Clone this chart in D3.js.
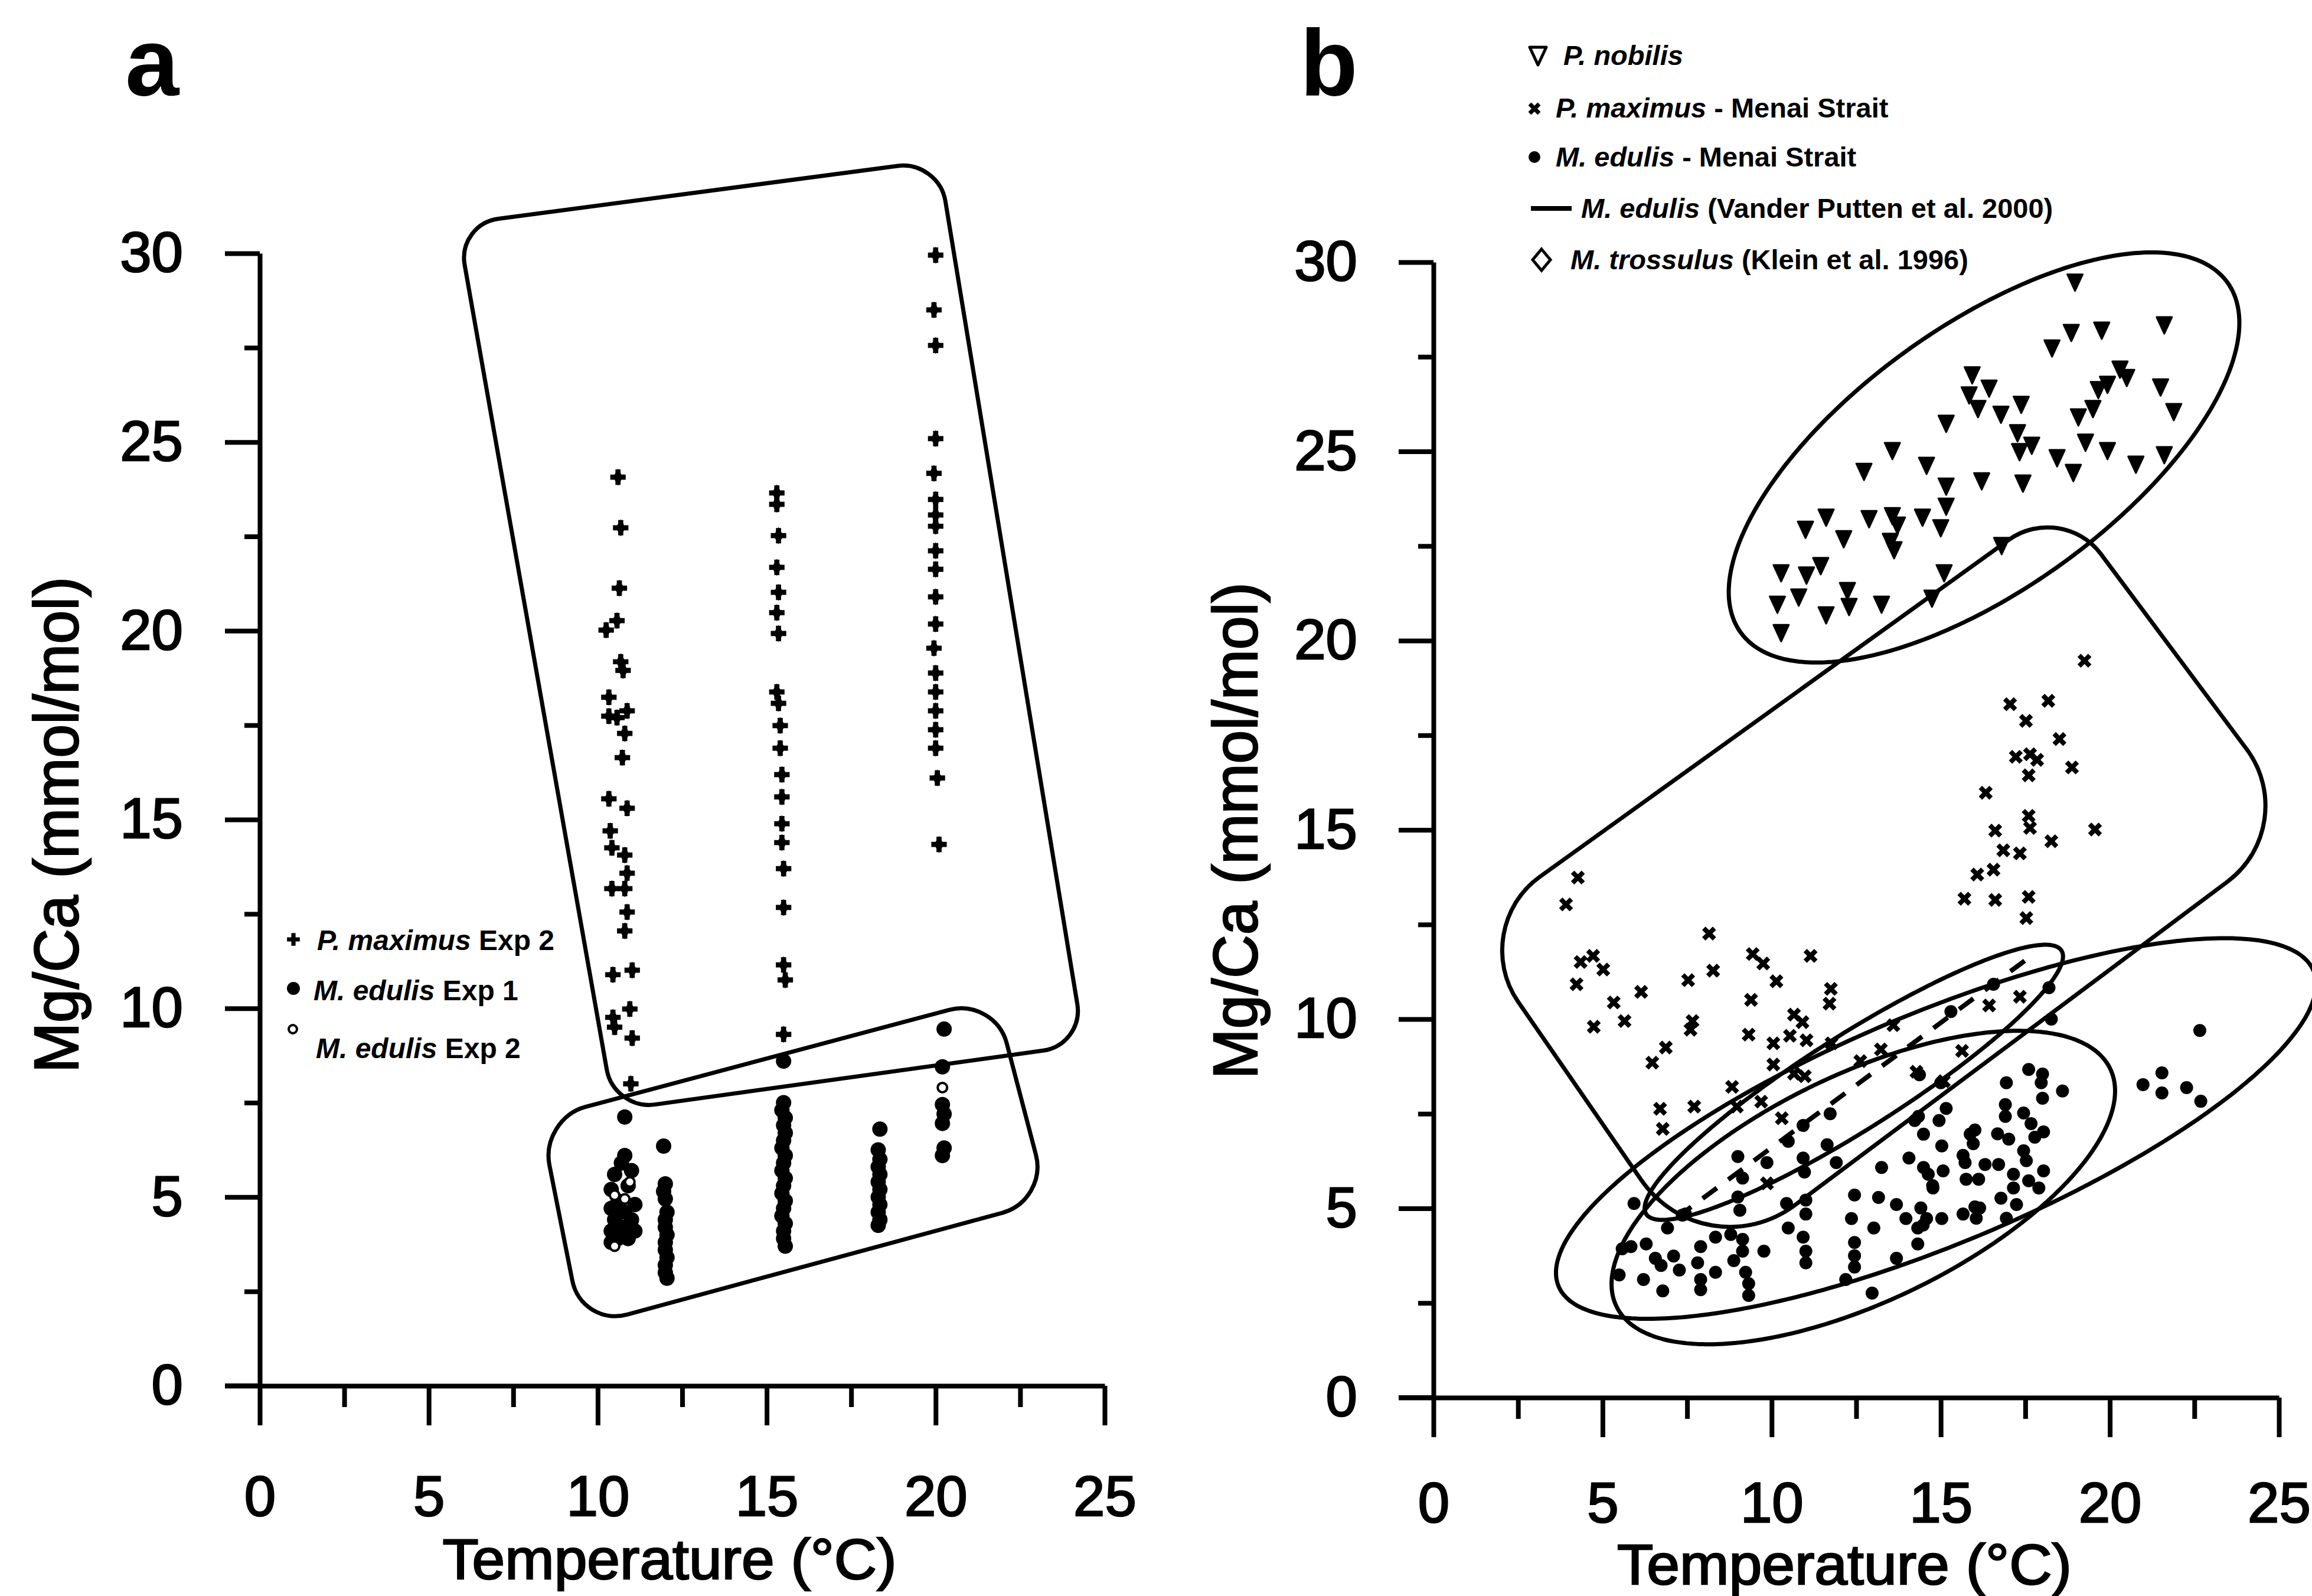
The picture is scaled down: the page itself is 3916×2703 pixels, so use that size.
<!DOCTYPE html>
<html><head><meta charset="utf-8">
<script src="https://cdn.jsdelivr.net/npm/d3@7"></script>
<style>html,body{margin:0;padding:0;background:#fff}</style>
</head><body>
<svg id="chart" width="3916" height="2703" xmlns="http://www.w3.org/2000/svg"></svg>
<script>
// ---------------- DATA ----------------
const xTicks = [0, 5, 10, 15, 20, 25];
const yTicks = [0, 5, 10, 15, 20, 25, 30];
const xMinor = [2.5, 7.5, 12.5, 17.5, 22.5];
const yMinor = [2.5, 7.5, 12.5, 17.5, 22.5, 27.5];
const xTitle = "Temperature (°C)";
const yTitle = "Mg/Ca (mmol/mol)";

// Panel a : P. maximus Exp 2 [T, Mg/Ca]
const aPmaximus = [
  [10.6,24.07],[10.68,22.73],[10.64,21.13],[10.57,20.27],[10.25,20.02],[10.68,19.18],[10.75,18.95],
  [10.33,18.24],[10.33,17.74],[10.87,17.88],[10.57,17.7],[10.8,17.28],[10.73,16.64],[10.33,15.55],
  [10.87,15.3],[10.37,14.7],[10.42,14.25],[10.8,14.06],[10.87,13.58],[10.42,13.17],[10.8,13.17],
  [10.87,12.55],[10.8,12.05],[10.45,10.89],[11.02,11.01],[10.95,9.98],[10.45,9.76],[10.5,9.5],
  [11.02,9.21],[10.98,8.0],
  [15.3,23.65],[15.3,23.35],[15.35,22.52],[15.3,21.68],[15.35,21.02],[15.3,20.48],[15.35,19.93],
  [15.3,18.38],[15.35,18.08],[15.4,17.49],[15.4,16.89],[15.45,16.19],[15.45,15.6],[15.45,14.89],
  [15.45,14.39],[15.5,13.7],[15.5,12.67],[15.5,11.15],[15.55,10.75],[15.5,9.31],
  [20.0,29.95],[19.95,28.5],[20.0,27.56],[20.0,25.09],[19.95,24.17],[20.0,23.48],[20.0,23.07],
  [20.0,22.77],[20.0,22.12],[20.0,21.63],[20.0,20.9],[20.0,20.18],[19.95,19.54],[20.0,18.88],
  [20.0,18.38],[20.0,17.88],[20.0,17.38],[20.0,16.89],[20.05,16.1],[20.1,14.34]
];
// Panel a : M. edulis Exp 1
const aEdulis1 = [
  [10.8,7.12],[10.8,6.1],[10.7,5.9],[10.5,5.6],[11.0,5.7],[10.4,5.2],[10.9,5.3],[10.6,4.9],[10.4,4.7],
  [11.1,4.8],[10.8,4.6],[10.5,4.4],[11.0,4.4],[10.7,4.2],[10.4,4.1],[11.1,4.1],[10.6,3.9],[10.9,3.9],
  [10.4,3.8],[10.8,4.0],
  [11.95,6.35],[12.0,5.35],[11.95,5.15],[12.0,4.95],[12.05,4.6],[12.0,4.4],[12.0,4.2],[12.05,4.0],
  [12.0,3.8],[12.0,3.6],[12.05,3.4],[12.0,3.2],[12.0,3.0],[12.05,2.85],
  [15.5,8.6],[15.5,7.5],[15.45,7.3],[15.55,7.1],[15.5,6.9],[15.55,6.7],[15.5,6.5],[15.45,6.3],
  [15.55,6.1],[15.5,5.9],[15.45,5.7],[15.55,5.5],[15.5,5.3],[15.45,5.1],[15.55,4.9],[15.5,4.7],
  [15.45,4.5],[15.55,4.3],[15.5,4.1],[15.5,3.9],[15.55,3.7],
  [18.35,6.8],[18.3,6.25],[18.35,6.0],[18.3,5.8],[18.35,5.6],[18.3,5.4],[18.35,5.2],[18.3,5.0],
  [18.35,4.8],[18.3,4.6],[18.35,4.4],[18.3,4.25],
  [20.25,9.45],[20.2,8.45],[20.2,7.45],[20.25,7.2],[20.2,6.95],[20.25,6.3],[20.2,6.1]
];
// Panel a : M. edulis Exp 2
const aEdulis2 = [[10.95,5.4],[10.5,5.05],[10.8,4.95],[10.5,3.7],[20.2,7.9]];

// Panel b : P. nobilis
const bNobilis = [
  [18.97,29.49],[18.86,28.16],[19.76,28.22],[21.61,28.36],[18.29,27.75],[15.93,27.04],[16.43,26.69],
  [15.84,26.51],[16.1,26.15],[20.3,27.19],[20.5,26.97],[19.93,26.79],[19.66,26.65],[21.5,26.72],
  [17.38,26.26],[16.78,26.0],[19.5,26.15],[19.07,25.93],[21.89,26.07],[15.16,25.76],[17.27,25.51],
  [17.33,25.01],[17.69,25.18],[19.28,25.26],[19.93,25.04],[21.61,24.93],[13.57,25.04],[12.73,24.49],
  [14.58,24.65],[18.44,24.85],[18.92,24.46],[20.77,24.68],[16.21,24.24],[17.43,24.18],[15.16,24.1],
  [15.16,23.57],[11.61,23.28],[12.88,23.24],[13.57,23.32],[13.72,23.07],[14.46,23.28],[11.0,22.96],
  [12.13,22.71],[13.51,22.64],[13.62,22.42],[15.0,23.0],[11.45,22.0],[10.28,21.81],[11.03,21.75],
  [15.1,21.81],[12.24,21.34],[12.29,20.92],[10.8,21.17],[10.17,20.98],[13.25,20.98],[11.61,20.7],
  [10.28,20.23],[14.74,21.14],[16.8,22.53]
];
// Panel b : P. maximus - Menai Strait
const bPmaximus = [
  [19.25,19.47],[17.05,18.32],[18.18,18.41],[17.52,17.88],[18.51,17.4],[17.22,16.93],[17.64,17.0],
  [17.85,16.85],[18.88,16.65],[17.6,16.44],[16.33,15.98],[17.6,15.37],[17.64,15.05],[16.61,14.98],
  [19.56,15.01],[18.27,14.7],[16.85,14.46],[17.34,14.38],[16.08,13.82],[16.56,13.95],[15.7,13.18],
  [16.61,13.15],[17.6,13.23],[17.53,12.67],[4.27,13.74],[3.92,13.03],[8.15,12.26],[4.35,11.51],
  [4.72,11.67],[5.02,11.31],[4.23,10.92],[9.44,11.72],[9.75,11.47],[11.15,11.67],[8.27,11.28],
  [7.53,11.03],[6.14,10.72],[10.14,11.0],[5.33,10.44],[9.39,10.51],[11.75,10.8],[11.71,10.41],
  [5.65,9.95],[4.74,9.8],[7.66,9.95],[7.6,9.72],[10.66,10.12],[10.91,9.92],[9.32,9.59],[6.87,9.25],
  [6.47,8.85],[10.54,9.56],[11.03,9.44],[11.77,9.36],[10.05,9.36],[10.05,8.8],[13.23,9.2],[13.6,9.84],
  [15.63,9.16],[16.43,10.36],[17.34,10.59],[14.28,8.61],[12.62,8.89],[10.66,8.56],[10.98,8.49],
  [8.83,8.21],[15.09,8.36],[8.97,7.69],[6.7,7.63],[7.71,7.69],[6.78,7.1],[9.69,7.82],[10.3,7.38],
  [9.86,5.66]
];
// Panel b : M. edulis - Menai Strait
const bEdulis = [
  [5.93,5.13],[9.0,6.37],[9.14,5.8],[9.0,5.3],[9.06,4.95],[11.64,6.68],[10.93,7.19],[10.49,6.77],
  [9.86,6.21],[10.93,6.33],[10.97,5.96],[11.73,7.5],[10.44,5.13],[11.01,5.22],[11.01,4.85],[10.49,4.48],
  [10.93,4.24],[11.01,3.87],[11.01,3.56],[7.45,4.85],[6.92,4.48],[8.34,4.24],[8.79,4.31],[9.14,4.18],
  [7.9,3.99],[5.84,3.99],[6.29,4.06],[7.1,3.74],[6.56,3.68],[6.73,3.49],[7.27,3.37],[7.81,3.56],
  [8.34,3.31],[8.88,3.62],[9.14,3.87],[9.23,3.31],[9.32,3.01],[9.32,2.7],[7.9,3.12],[7.9,2.85],
  [9.77,3.87],[5.49,3.24],[6.21,3.12],[6.78,2.82],[5.58,3.93],[7.36,4.82],[12.36,4.73],[12.45,4.1],
  [12.45,3.75],[12.45,3.45],[13.16,5.29],[13.02,4.48],[12.97,2.76],[12.19,3.12],[13.69,3.68],
  [11.91,6.21],[12.45,5.35],[14.23,7.32],[14.49,6.96],[14.95,7.32],[15.03,6.65],[14.06,6.33],
  [14.49,6.08],[14.76,5.6],[13.25,6.08],[13.69,5.1],[13.97,4.73],[14.32,4.48],[14.32,4.06],[14.58,4.73],
  [15.03,4.73],[15.66,6.4],[15.75,5.77],[15.66,4.85],[15.87,6.96],[16.01,5.04],
  [22.66,9.7],[20.98,8.27],[21.54,8.58],[21.54,8.05],[22.27,8.19],[22.69,7.83],[17.6,8.67],[18.01,8.55],
  [17.97,8.32],[16.94,8.32],[18.6,8.1],[18.01,7.91],[16.91,7.74],[16.91,7.43],[17.45,7.52],[17.67,7.24],
  [18.04,7.02],[17.78,6.88],[16.01,7.07],[15.96,6.71],[16.68,6.97],[17.01,6.83],[17.45,6.52],[17.53,6.26],
  [15.72,6.21],[16.31,6.16],[16.71,6.16],[18.04,5.99],[16.12,5.77],[17.15,5.9],[17.15,5.54],[17.6,5.73],
  [17.9,5.54],[16.78,5.27],[17.24,5.1],[16.15,5.01],[16.05,4.74],[16.94,4.74],[15.07,5.99],[14.63,5.9],
  [14.77,5.54],[14.41,5.01],[14.48,4.56],[14.34,7.43],[15.16,7.64],[15.0,8.32],[15.3,10.2],[16.56,10.92],
  [18.27,10.0],[18.2,10.83],[14.37,8.53]
];
// Panel b : M. edulis (Vander Putten et al. 2000) regression line
const bVanderPutten = [[7.2,4.76],[17.6,11.62]];

// Envelopes (annotation outlines) in data units
const aEnvelopes = [
  {corners: [[5.85,30.77],[20.09,32.46],[24.39,9.03],[10.48,7.3]], r: 70},
  {corners: [[8.3,7.07],[21.75,10.28],[23.32,4.91],[9.52,1.56]], r: 80}
];
const bEnvelope = {corners: [[1.01,12.39],[18.58,23.67],[25.72,15.13],[8.03,3.31]], r: [150,110,160,190]};
const bEllipses = [
  {c:[16.28,24.84], u:[7.20,4.62], v:[2.27,-2.83]},
  {c:[12.43,8.33],  u:[6.14,3.48], v:[0.75,-1.05]},
  {c:[14.86,7.11],  u:[11.16,4.17], v:[1.32,-2.81]},
  {c:[12.71,5.55],  u:[7.30,3.14], v:[1.46,-2.70]}
];

// ---------------- DRAWING ----------------
const FONT = "'Liberation Sans', Arial, Helvetica, sans-serif";
const svg = d3.select("#chart");
svg.append("rect").attr("width", 3916).attr("height", 2703).attr("fill", "#fff");

const A = {
  x: d3.scaleLinear().domain([0,25]).range([440,1871]),
  y: d3.scaleLinear().domain([0,30]).range([2347,429]),
  xPad: 85, yPad: 71
};
const B = {
  x: d3.scaleLinear().domain([0,25]).range([2428,3860]),
  y: d3.scaleLinear().domain([0,30]).range([2367,444]),
  xPad: 76, yPad: 70
};

function drawAxes(P) {
  const {x, y} = P;
  const gy = svg.append("g").attr("transform", `translate(${x(0)},0)`)
    .call(d3.axisLeft(y).tickValues(yTicks).tickSize(59).tickSizeOuter(0).tickPadding(P.yPad).tickFormat(d3.format("d")));
  const gym = svg.append("g").attr("transform", `translate(${x(0)},0)`)
    .call(d3.axisLeft(y).tickValues(yMinor).tickSize(26).tickSizeOuter(0).tickFormat(""));
  gym.select(".domain").remove();
  const gx = svg.append("g").attr("transform", `translate(0,${y(0)})`)
    .call(d3.axisBottom(x).tickValues(xTicks).tickSize(67).tickSizeOuter(0).tickPadding(P.xPad).tickFormat(d3.format("d")));
  const gxm = svg.append("g").attr("transform", `translate(0,${y(0)})`)
    .call(d3.axisBottom(x).tickValues(xMinor).tickSize(36).tickSizeOuter(0).tickFormat(""));
  gxm.select(".domain").remove();
  [gy, gym, gx, gxm].forEach(g => {
    g.attr("font-family", FONT).attr("font-size", 96);
    g.selectAll("line").attr("stroke", "#000").attr("stroke-width", 8);
    g.selectAll(".domain").attr("stroke", "#000").attr("stroke-width", 8);
    g.selectAll("text").attr("fill", "#000").attr("stroke", "#000").attr("stroke-width", 2.5);
  });
  svg.append("line").attr("x1", x(0) - 59).attr("x2", x(0)).attr("y1", y(0)).attr("y2", y(0))
    .attr("stroke", "#000").attr("stroke-width", 8);
}

function roundedPoly(pts, radii) {
  const n = pts.length; let d = "";
  for (let i = 0; i < n; i++) {
    const p = pts[i], a = pts[(i - 1 + n) % n], b = pts[(i + 1) % n];
    const r = Array.isArray(radii) ? radii[i] : radii;
    const la = Math.hypot(a[0]-p[0], a[1]-p[1]), lb = Math.hypot(b[0]-p[0], b[1]-p[1]);
    const u1 = [(a[0]-p[0])/la, (a[1]-p[1])/la], u2 = [(b[0]-p[0])/lb, (b[1]-p[1])/lb];
    const p1 = [p[0]+u1[0]*r, p[1]+u1[1]*r], p2 = [p[0]+u2[0]*r, p[1]+u2[1]*r];
    const k = 0.55;
    const c1 = [p1[0]+(p[0]-p1[0])*k, p1[1]+(p[1]-p1[1])*k];
    const c2 = [p2[0]+(p[0]-p2[0])*k, p2[1]+(p[1]-p2[1])*k];
    d += (i === 0 ? "M" : "L") + p1.join(",") + "C" + c1.join(",") + " " + c2.join(",") + " " + p2.join(",");
  }
  return d + "Z";
}

function drawEnvelope(P, env, sw) {
  const pts = env.corners.map(c => [P.x(c[0]), P.y(c[1])]);
  svg.append("path").attr("d", roundedPoly(pts, env.r))
    .attr("fill", "none").attr("stroke", "#000").attr("stroke-width", sw).attr("stroke-linejoin", "round");
}

function drawEllipse(P, e, sw) {
  const pts = d3.range(0, 360, 2).map(t => {
    const a = t * Math.PI / 180;
    return [P.x(e.c[0] + e.u[0]*Math.cos(a) + e.v[0]*Math.sin(a)),
            P.y(e.c[1] + e.u[1]*Math.cos(a) + e.v[1]*Math.sin(a))];
  });
  svg.append("path").attr("d", d3.line().curve(d3.curveCardinalClosed.tension(0.5))(pts))
    .attr("fill", "none").attr("stroke", "#000").attr("stroke-width", sw);
}

// marker shapes
const plusPath = d3.symbol(d3.symbolCross, 380)();
const diamondPath = d3.symbol(d3.symbolDiamond, 240)();
const triPath = "M-13,-12L13,-12L0,16Z";
const xPath = "M-9,-9L9,9M9,-9L-9,9";

function place(P, data) {
  return svg.append("g").selectAll(null).data(data).join("g")
    .attr("transform", d => `translate(${P.x(d[0])},${P.y(d[1])})`);
}

// ----- Panel a -----
drawAxes(A);
aEnvelopes.forEach(e => drawEnvelope(A, e, 7));
{
  const g = place(A, aPmaximus);
  g.append("path").attr("d", plusPath).attr("fill", "#000");
  g.append("path").attr("d", diamondPath).attr("fill", "#000");
  place(A, aEdulis1).append("circle").attr("r", 13).attr("fill", "#000");
  place(A, aEdulis2).append("circle").attr("r", 8).attr("fill", "#fff").attr("stroke", "#000").attr("stroke-width", 4);
}

// ----- Panel b -----
drawAxes(B);
drawEnvelope(B, bEnvelope, 7);
bEllipses.forEach(e => drawEllipse(B, e, 7));
svg.append("path").datum(bVanderPutten)
  .attr("d", d3.line().x(d => B.x(d[0])).y(d => B.y(d[1])))
  .attr("fill", "none").attr("stroke", "#000").attr("stroke-width", 8).attr("stroke-dasharray", "30,24");
place(B, bNobilis).append("path").attr("d", triPath).attr("fill", "#000")
  .attr("stroke", "#000").attr("stroke-width", 3).attr("stroke-linejoin", "round");
place(B, bPmaximus).append("path").attr("d", xPath).attr("stroke", "#000").attr("stroke-width", 8).attr("fill", "none");
place(B, bEdulis).append("circle").attr("r", 11).attr("fill", "#000");

// ----- Titles -----
function text(x, y, str, size, opts = {}) {
  const t = svg.append("text").attr("x", x).attr("y", y).attr("font-family", FONT)
    .attr("font-size", size).attr("fill", "#000").text(str);
  if (opts.anchor) t.attr("text-anchor", opts.anchor);
  if (opts.weight) t.attr("font-weight", opts.weight);
  if (opts.len) t.attr("textLength", opts.len).attr("lengthAdjust", "spacingAndGlyphs");
  if (opts.transform) t.attr("transform", opts.transform);
  if (opts.stroke) t.attr("stroke", "#000").attr("stroke-width", opts.stroke);
  return t;
}
text(212, 161, "a", 164, {weight: "bold"});
text(2202, 162, "b", 160, {weight: "bold"});

text(1134, 2674, xTitle, 96, {anchor: "middle", len: 769, stroke: 2.5});
text(3124, 2683, xTitle, 96, {anchor: "middle", len: 770, stroke: 2.5});
text(0, 0, yTitle, 106, {anchor: "middle", len: 840, stroke: 2.5, transform: "translate(132,1397) rotate(-90)"});
text(0, 0, yTitle, 106, {anchor: "middle", len: 841, stroke: 2.5, transform: "translate(2129,1407) rotate(-90)"});

// ----- Legends -----
function legendText(x, y, italicPart, rest, size) {
  const t = svg.append("text").attr("x", x).attr("y", y).attr("font-family", FONT)
    .attr("font-size", size).attr("font-weight", "bold").attr("fill", "#000");
  t.append("tspan").attr("font-style", "italic").text(italicPart);
  if (rest) t.append("tspan").text(rest);
}
// panel a legend
{
  const g1 = svg.append("g").attr("transform", "translate(497,1591)");
  g1.append("path").attr("d", d3.symbol(d3.symbolCross, 260)()).attr("fill", "#000");
  svg.append("circle").attr("cx", 497).attr("cy", 1674).attr("r", 11).attr("fill", "#000");
  svg.append("circle").attr("cx", 496).attr("cy", 1743).attr("r", 7).attr("fill", "#fff").attr("stroke", "#000").attr("stroke-width", 4);
  legendText(537, 1609, "P. maximus", " Exp 2", 48);
  legendText(531, 1694, "M. edulis", " Exp 1", 48);
  legendText(535, 1792, "M. edulis", " Exp 2", 48);
}
// panel b legend
{
  svg.append("path").attr("d", "M2591,80L2619,80L2605,110Z").attr("fill", "none").attr("stroke", "#000").attr("stroke-width", 5).attr("stroke-linejoin", "round");
  svg.append("path").attr("d", "M2591,176L2607,192M2607,176L2591,192").attr("stroke", "#000").attr("stroke-width", 7);
  svg.append("circle").attr("cx", 2599).attr("cy", 266).attr("r", 10).attr("fill", "#000");
  svg.append("line").attr("x1", 2593).attr("x2", 2662).attr("y1", 353).attr("y2", 353).attr("stroke", "#000").attr("stroke-width", 8);
  svg.append("path").attr("d", "M2611,422L2626,440L2611,458L2596,440Z").attr("fill", "none").attr("stroke", "#000").attr("stroke-width", 5);
  legendText(2648, 110, "P. nobilis", "", 47);
  legendText(2635, 199, "P. maximus", " - Menai Strait", 47);
  legendText(2635, 282, "M. edulis", " - Menai Strait", 47);
  legendText(2678, 369, "M. edulis", " (Vander Putten et al. 2000)", 47);
  legendText(2660, 456, "M. trossulus", " (Klein et al. 1996)", 47);
}
</script>
</body></html>
